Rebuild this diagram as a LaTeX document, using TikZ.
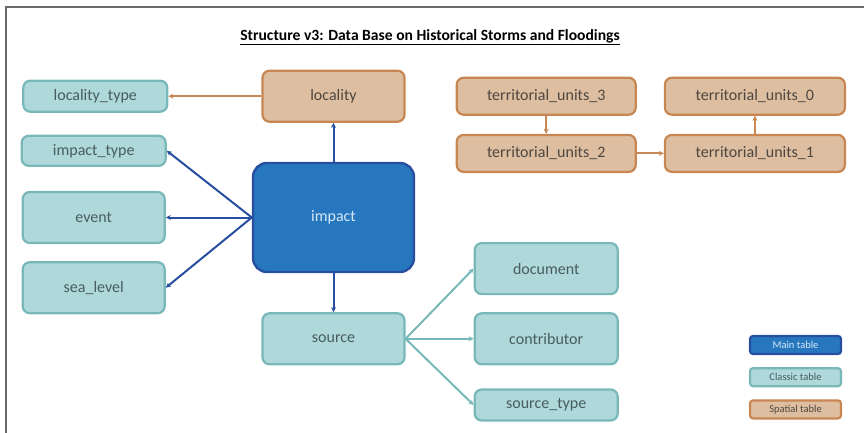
\documentclass[tikz,border=0pt]{standalone}
\usepackage{fontspec}
\setmainfont{Carlito}
\usepackage{tikz}
\usetikzlibrary{arrows.meta, positioning}
\definecolor{mainfill}{RGB}{38,119,189}
\definecolor{maindraw}{RGB}{40,78,160}
\definecolor{maintext}{RGB}{215,232,248}
\definecolor{classfill}{RGB}{174,216,218}
\definecolor{classdraw}{RGB}{120,184,184}
\definecolor{classtext}{RGB}{72,92,98}
\definecolor{spatfill}{RGB}{221,190,160}
\definecolor{spatdraw}{RGB}{200,134,82}
\definecolor{spattext}{RGB}{78,70,64}
\definecolor{framegray}{RGB}{105,105,105}
\tikzset{
  maintab/.style={rectangle, draw=maindraw, fill=mainfill, text=maintext,
    minimum width=161pt, minimum height=109pt, font=\fontsize{16}{18}\selectfont,
    rounded corners=14pt, line width=2.4pt},
  classtab/.style={rectangle, draw=classdraw, fill=classfill, text=classtext,
    minimum width=142pt, minimum height=51pt, font=\fontsize{16}{18}\selectfont,
    rounded corners=7pt, line width=2.2pt},
  spattab/.style={rectangle, draw=spatdraw, fill=spatfill, text=spattext,
    minimum width=142pt, minimum height=51pt, font=\fontsize{16}{18}\selectfont,
    rounded corners=7pt, line width=2.2pt},
  legend/.style={minimum width=91pt, minimum height=18pt,
    font=\fontsize{10.5}{12}\selectfont, rounded corners=3pt, line width=2.2pt},
  bluearrow/.style={-{Stealth[length=5pt,width=5pt]}, line width=2pt, color=maindraw},
  tealarrow/.style={-{Stealth[length=5pt,width=5pt]}, line width=2pt, color=classdraw},
  tanarrow/.style={-{Stealth[length=5pt,width=5pt]}, line width=2pt, color=spatdraw}
}
\begin{document}
\begin{tikzpicture}[x=1pt, y=-1pt]
  \useasboundingbox (0,0) rectangle (864,433);
  \draw[framegray, line width=1.5pt] (6,433) -- (6,7) -- (864,7);
  \node[font=\fontsize{15.6}{17}\selectfont\bfseries] (title) at (430,37)
    {\underline{Structure v3: Data Base on Historical Storms and Floodings}};

  % main table and its neighbours
  \node[maintab] (impact) at (333.5,217.5) {impact};
  \node[spattab, above=39pt of impact] (locality) {locality};
  \node[classtab, below=39pt of impact] (source) {source};
  \node[classtab, minimum width=144pt, minimum height=31pt, left=93pt of locality] (loctype) {locality\_type};
  \node[classtab, left=86pt of impact] (event) {event};
  \node[classtab, minimum width=144pt, minimum height=30pt, above=24pt of event] (imptype) {impact\_type};
  \node[classtab, below=17pt of event] (sealevel) {sea\_level};
  \node[classtab, minimum width=143pt, right=68pt of source] (contrib) {contributor};
  \node[classtab, minimum width=143pt, above=17pt of contrib] (document) {document};
  \node[classtab, minimum width=143pt, minimum height=31pt, below=23pt of contrib] (srctype) {source\_type};

  % spatial tables
  \node[spattab, minimum width=179pt, minimum height=37pt, right=50pt of locality] (tu3) {territorial\_units\_3};
  \node[spattab, minimum width=179pt, minimum height=37pt, below=18pt of tu3] (tu2) {territorial\_units\_2};
  \node[spattab, minimum width=180pt, minimum height=37pt, right=27pt of tu2] (tu1) {territorial\_units\_1};
  \node[spattab, minimum width=180pt, minimum height=37pt, above=18pt of tu1] (tu0) {territorial\_units\_0};

  % legend
  \node[legend, draw=maindraw, fill=mainfill, text=maintext] (lgmain) at (795.5,345) {Main table};
  \node[legend, draw=classdraw, fill=classfill, text=classtext, below=12pt of lgmain] (lgclass) {Classic table};
  \node[legend, draw=spatdraw, fill=spatfill, text=spattext, below=12pt of lgclass] (lgspat) {Spatial table};

  \draw[tanarrow] (locality) -- (loctype);
  \draw[bluearrow] (impact) -- (locality);
  \draw[bluearrow] (impact.west) -- (imptype.east);
  \draw[bluearrow] (impact.west) -- (event.east);
  \draw[bluearrow] (impact.west) -- (sealevel.east);
  \draw[bluearrow] (impact) -- (source);
  \draw[tealarrow] (source.east) -- (document.west);
  \draw[tealarrow] (source.east) -- (contrib.west);
  \draw[tealarrow] (source.east) -- (srctype.west);
  \draw[tanarrow] (tu3) -- (tu2);
  \draw[tanarrow] (tu2) -- (tu1);
  \draw[tanarrow] (tu1) -- (tu0);
\end{tikzpicture}
\end{document}
